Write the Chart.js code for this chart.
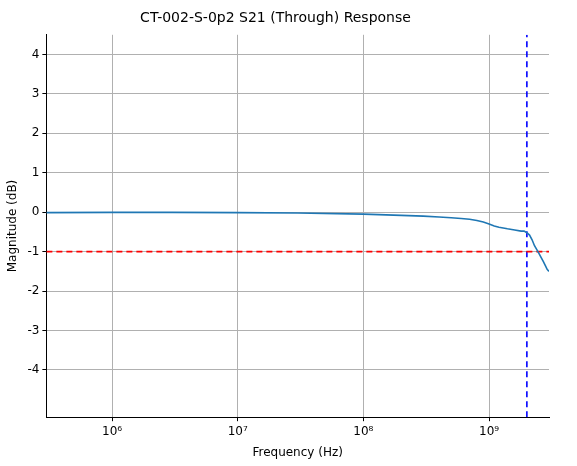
<!DOCTYPE html>
<html><head><script src="https://cdn.jsdelivr.net/npm/chart.js"></script>
<style>body{margin:0;background:#fff}</style></head>
<body><canvas id="c" width="577" height="466" style="width:577px;height:466px"></canvas>
<script>
const freqs=[3e5,1e6,3e6,1e7,3e7,1e8,2e8,3e8,4e8,5e8,6e8,7e8,8e8,9e8,1e9,1.1e9,1.2e9,1.4e9,1.6e9,1.8e9,1.9e9,2e9,2.1e9,2.2e9,2.3e9,2.4e9,2.5e9,2.6e9,2.7e9,2.8e9,2.9e9,3e9];
const mags=[-0.01,-0.005,-0.005,-0.01,-0.02,-0.05,-0.08,-0.1,-0.12,-0.14,-0.16,-0.18,-0.21,-0.25,-0.3,-0.35,-0.38,-0.42,-0.45,-0.48,-0.48,-0.52,-0.58,-0.7,-0.85,-0.95,-1.05,-1.15,-1.25,-1.35,-1.45,-1.5];
const xMin=3e5,xMax=3e9,yMin=-5.2,yMax=4.5,cutoff=2e9,limit=-1;
const superscript={'5':'⁵','6':'⁶','7':'⁷','8':'⁸','9':'⁹'};
new Chart(document.getElementById('c'),{type:'scatter',
data:{datasets:[
{data:freqs.map((f,i)=>({x:f,y:mags[i]})),showLine:true,borderColor:'#1f77b4',borderWidth:1.6,pointRadius:0},
{data:[{x:xMin,y:limit},{x:xMax,y:limit}],showLine:true,borderColor:'#ff0000',borderDash:[6,4],borderWidth:1.6,pointRadius:0},
{data:[{x:cutoff,y:yMin},{x:cutoff,y:yMax}],showLine:true,borderColor:'#0000ff',borderDash:[6,4],borderWidth:1.6,pointRadius:0}]},
options:{responsive:false,animation:false,devicePixelRatio:1,
layout:{padding:{left:2,right:28,top:10,bottom:2}},
plugins:{legend:{display:false},title:{display:true,text:'CT-002-S-0p2 S21 (Through) Response',color:'#000',font:{family:'DejaVu Sans',size:14,weight:'normal'},padding:{bottom:8}}},
scales:{
x:{type:'logarithmic',min:xMin,max:xMax,
afterBuildTicks:a=>{a.ticks=[1e6,1e7,1e8,1e9].map(v=>({value:v}));},
ticks:{color:'#000',font:{family:'DejaVu Sans',size:12},maxRotation:0,callback:v=>'10'+superscript[String(Math.round(Math.log10(v)))]},
grid:{color:'#b0b0b0',tickColor:'#000',tickLength:4},border:{color:'#000'},
title:{display:true,text:'Frequency (Hz)',color:'#000',font:{family:'DejaVu Sans',size:12}}},
y:{min:yMin,max:yMax,
afterBuildTicks:a=>{a.ticks=[-4,-3,-2,-1,0,1,2,3,4].map(v=>({value:v}));},
ticks:{color:'#000',font:{family:'DejaVu Sans',size:12}},
grid:{color:'#b0b0b0',tickColor:'#000',tickLength:4},border:{color:'#000'},
title:{display:true,text:'Magnitude (dB)',color:'#000',font:{family:'DejaVu Sans',size:12}}}}}});
</script></body></html>
